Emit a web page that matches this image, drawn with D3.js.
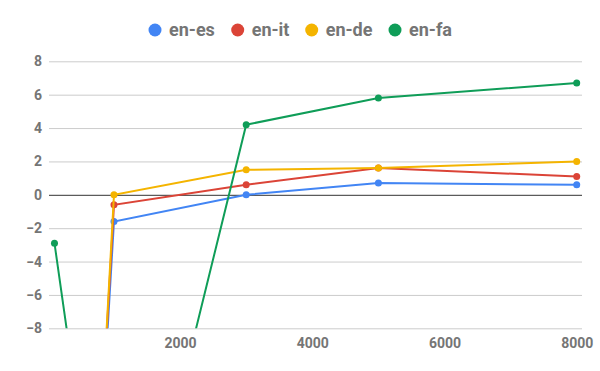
<!DOCTYPE html>
<html>
<head>
<meta charset="utf-8">
<script src="https://cdn.jsdelivr.net/npm/d3@7"></script>
<style>
  body { margin: 0; background: #fff; }
  svg { font-family: Roboto, sans-serif; font-weight: bold; }
</style>
</head>
<body>
<svg id="chart" width="600" height="371"></svg>
<script>
// data
var xValues = [100, 1000, 3000, 5000, 8000];
var seriesNames = ['en-es', 'en-it', 'en-de', 'en-fa'];
var seriesColors = ['#4285f4', '#db4437', '#f4b400', '#0f9d58'];
var enEs = [-62, -1.6, 0, 0.7, 0.6];
var enIt = [-63, -0.6, 0.6, 1.6, 1.1];
var enDe = [-65, 0, 1.5, 1.6, 2.0];
var enFa = [-2.9, -28, 4.2, 5.8, 6.7];
var yTicks = [-8, -6, -4, -2, 0, 2, 4, 6, 8];
var xTicks = [2000, 4000, 6000, 8000];

var allSeries = [enEs, enIt, enDe, enFa];

var svg = d3.select('#chart');
var plotLeft = 49, plotRight = 582, plotTop = 61.3, plotBottom = 328.3;

var x = d3.scaleLinear().domain([17, 8080]).range([plotLeft, plotRight]);
var y = d3.scaleLinear().domain([-8, 8]).range([plotBottom, plotTop]);

// gridlines
var yAxis = d3.axisLeft(y).tickValues(yTicks).tickSize(-(plotRight - plotLeft)).tickPadding(7);
var yG = svg.append('g').attr('transform', 'translate(' + plotLeft + ',0)').call(yAxis);
yG.select('.domain').remove();
yG.selectAll('.tick line').attr('stroke', d => d === 0 ? '#333' : '#ccc');
yG.selectAll('.tick text')
  .attr('fill', '#757575')
  .style('font-size', '14px')
  .style('font-family', 'Roboto')
  .style('font-weight', 'bold');

var xAxis = d3.axisBottom(x).tickValues(xTicks).tickFormat(d3.format('d')).tickSize(0).tickPadding(10);
var xG = svg.append('g').attr('transform', 'translate(0,' + plotBottom + ')').call(xAxis);
xG.select('.domain').remove();
xG.selectAll('.tick text')
  .attr('fill', '#757575')
  .style('font-size', '14px')
  .style('font-family', 'Roboto')
  .style('font-weight', 'bold');

// put zero line above the others
yG.selectAll('.tick').filter(d => d === 0).raise();

svg.append('defs').append('clipPath').attr('id', 'plotClip')
  .append('rect')
  .attr('x', plotLeft).attr('y', plotTop - 5)
  .attr('width', plotRight - plotLeft + 5).attr('height', plotBottom - plotTop + 5);

var plot = svg.append('g').attr('clip-path', 'url(#plotClip)');
var line = d3.line().x((d, i) => x(xValues[i])).y(d => y(d));

allSeries.forEach(function(values, si) {
  var g = plot.append('g');
  g.append('path')
    .datum(values)
    .attr('d', line)
    .attr('fill', 'none')
    .attr('stroke', seriesColors[si])
    .attr('stroke-width', 2);
  g.selectAll('circle')
    .data(values)
    .enter().append('circle')
    .attr('cx', (d, i) => x(xValues[i]))
    .attr('cy', d => y(d))
    .attr('r', 3.5)
    .attr('fill', seriesColors[si]);
});

// legend
var legendX = [155, 237.7, 311.7, 395];
var legend = svg.append('g');
seriesNames.forEach(function(name, i) {
  legend.append('circle')
    .attr('cx', legendX[i]).attr('cy', 30).attr('r', 6.5)
    .attr('fill', seriesColors[i]);
  legend.append('text')
    .attr('x', legendX[i] + 14).attr('y', 30)
    .attr('dy', '0.35em')
    .attr('fill', '#757575')
    .style('font-size', '18px')
    .text(name);
});
</script>
</body>
</html>
